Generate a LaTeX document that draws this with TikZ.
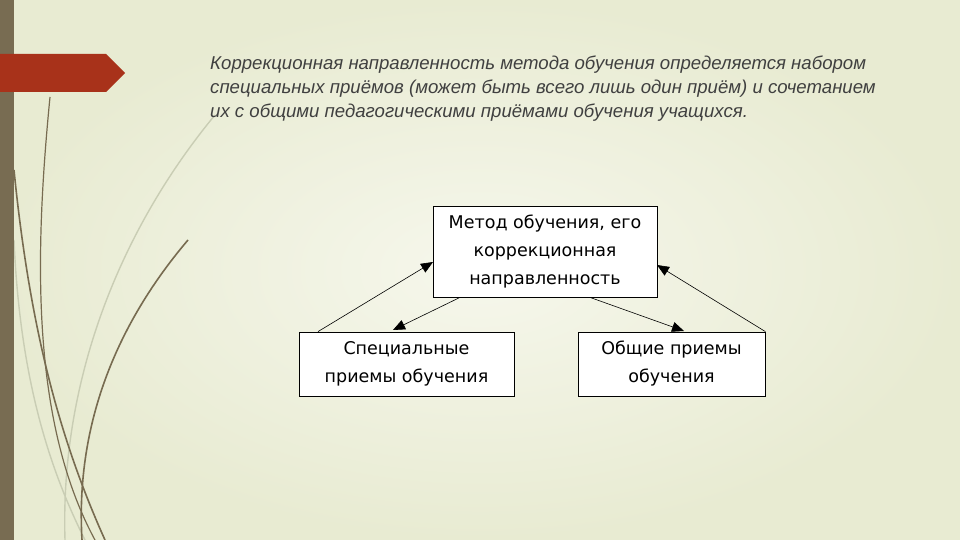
\documentclass[tikz,border=0pt]{standalone}
\usepackage{fontspec}
\setmainfont{DejaVu Sans}
\newfontfamily\titlefont{Liberation Sans}
\usetikzlibrary{arrows.meta}
\definecolor{bg}{HTML}{E8EBD2}
\definecolor{bgc}{HTML}{F6F7EC}
\definecolor{barc}{HTML}{786C52}
\definecolor{tabc}{HTML}{A8321A}
\definecolor{stem}{HTML}{776B50}
\definecolor{stemlight}{HTML}{C9CDB4}
\tikzset{
  box/.style={draw=black, line width=0.8pt, fill=white, align=center, font=\fontsize{17.5}{28}\selectfont},
  conn/.style={line width=0.6pt, -{Triangle[length=12pt,width=10pt]}},
  stemline/.style={stem, line width=1.6pt},
  lightline/.style={stemlight, line width=1.4pt}
}
\begin{document}
\begin{tikzpicture}[x=1pt,y=-1pt]
\useasboundingbox (0,0) rectangle (960,540);
\shade[inner color=bgc, outer color=bg] (0,0) rectangle (960,540);
% decorative stems
\draw[lightline] (215,115) .. controls (120,230) and (60,380) .. (65,540);
\draw[lightline] (14,240) .. controls (20,380) and (50,470) .. (85,540);
\draw[stemline, line width=1.2pt] (50,97) .. controls (35,250) and (30,420) .. (95,540);
\draw[stemline] (14,170) .. controls (30,330) and (60,440) .. (105,540);
\draw[stemline] (188,240) .. controls (120,320) and (75,420) .. (82,540);
% left bar
\fill[barc] (0,0) rectangle (14,540);
% red tab
\fill[tabc] (0,54) -- (106,54) -- (125,73) -- (106,92) -- (0,92) -- cycle;
% title
\node[anchor=north west, align=left, text=black!75, font=\titlefont\itshape\fontsize{18.6}{24}\selectfont, inner sep=0pt] (title) at (210,56)
{Коррекционная направленность метода обучения определяется набором\\
специальных приёмов (может быть всего лишь один приём) и сочетанием\\
их с общими педагогическими приёмами обучения учащихся.};
% boxes
\node[box, minimum width=224pt, minimum height=91pt] (top) at (545,251.5) {Метод обучения, его\\коррекционная\\направленность};
\node[box, minimum width=215pt, minimum height=64pt] (left) at (406.5,364) {Специальные\\приемы обучения};
\node[box, minimum width=187pt, minimum height=64pt] (right) at (671.5,364) {Общие приемы\\обучения};
% connectors
\coordinate (l1) at (318,332);
\coordinate (t1) at (433,262);
\draw[conn] (left.north west -| l1) -- (t1);
\draw[conn] (top.south west -| 460,0) -- (393,330);
\draw[conn] (top.south east -| 590,0) -- (684,331);
\draw[conn] (right.north east) -- (657,265);
\end{tikzpicture}
\end{document}
